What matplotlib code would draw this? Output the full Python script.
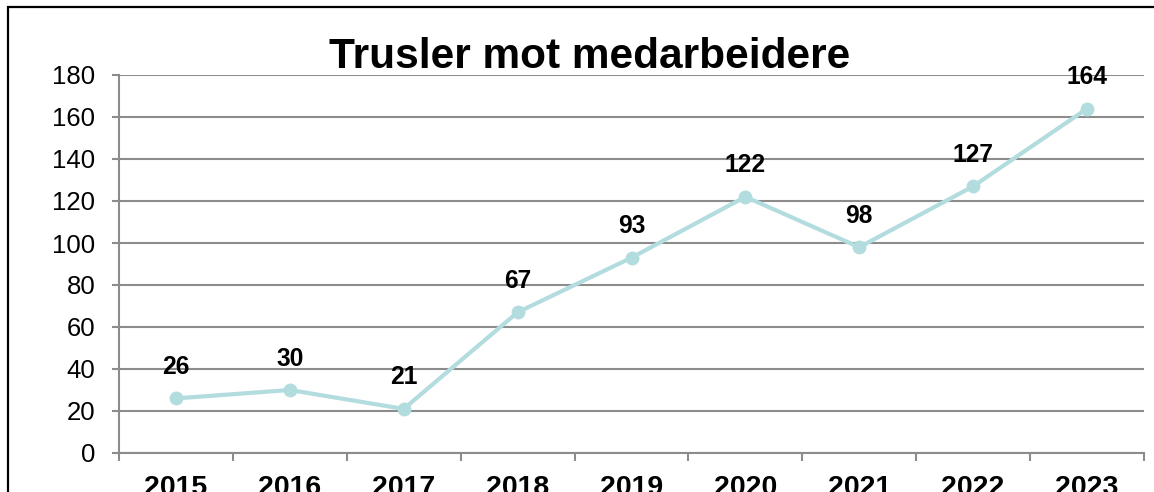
import matplotlib.pyplot as plt
from matplotlib.patches import Rectangle

plt.rcParams['font.family'] = ['Liberation Sans', 'DejaVu Sans']

years = ['2015', '2016', '2017', '2018', '2019', '2020', '2021', '2022', '2023']
trusler = [26, 30, 21, 67, 93, 122, 98, 127, 164]

fig = plt.figure(figsize=(11.54, 4.92), dpi=100)
W, H = 1154, 492
ax = fig.add_axes([119 / W, 1 - 453 / H, (1144 - 119) / W, (453 - 75) / H])

# ramme rundt hele diagrammet (går ut over kanten til høyre og nede)
fig.patches.append(Rectangle((8 / W, -0.1), 1.2, 1 - 7 / H + 0.1, transform=fig.transFigure,
                             fill=False, edgecolor='black', linewidth=1.6))

x = list(range(len(years)))
ax.plot(x, trusler, color='#b3dcdf', linewidth=3, marker='o', markersize=10,
        markeredgewidth=0, zorder=3)
for xi, v in zip(x, trusler):
    ax.annotate(str(v), (xi, v), xytext=(0, 14), textcoords='offset points',
                ha='center', va='bottom', fontsize=17.7, fontweight='bold')

ax.set_xlim(-0.5, len(years) - 0.5)
ax.set_ylim(0, 180)
ax.set_yticks(range(0, 181, 20))
ax.yaxis.grid(True, color='#8c8c8c', linewidth=1.5)
ax.set_axisbelow(True)
ax.set_xticks([i - 0.5 for i in range(len(years) + 1)], minor=False)
ax.set_xticklabels([])
ax.set_xticks(x, minor=True)
ax.set_xticklabels(years, minor=True, fontsize=20.5, fontweight='bold')
ax.tick_params(axis='x', which='minor', length=0, pad=15.5)
ax.tick_params(axis='x', which='major', length=6, width=1.5, color='#8c8c8c')
ax.tick_params(axis='y', length=5, width=1.5, color='#8c8c8c', labelsize=18.5, pad=12)
for s in ['top', 'right']:
    ax.spines[s].set_visible(False)
for s in ['left', 'bottom']:
    ax.spines[s].set_color('#8c8c8c')
    ax.spines[s].set_linewidth(1.5)

fig.text(590 / W, 1 - 68 / H, 'Trusler mot medarbeidere', ha='center', va='baseline',
         fontsize=30.5, fontweight='bold')

fig.savefig('out.png', dpi=100)
